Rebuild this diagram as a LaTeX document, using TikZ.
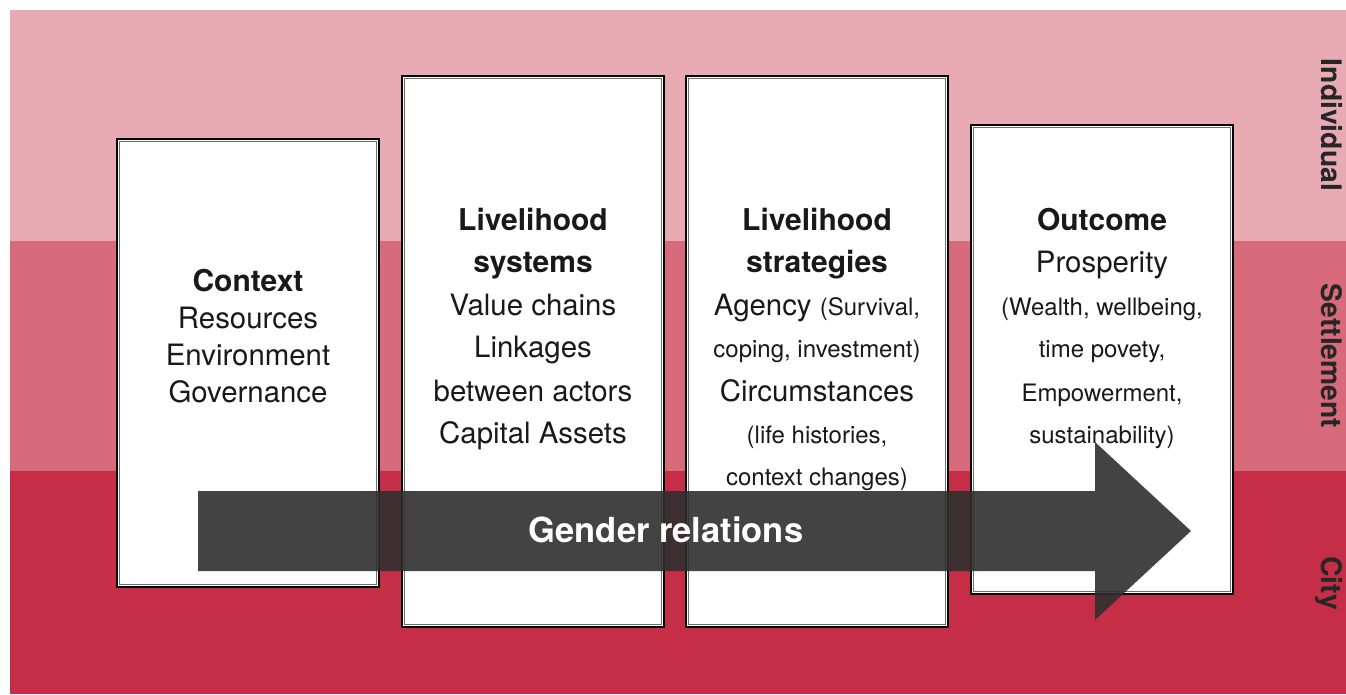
\documentclass[tikz,border=0pt]{standalone}
\usepackage{fontspec}
\setmainfont{TeX Gyre Heros}
\definecolor{bandA}{RGB}{232,171,179}
\definecolor{bandB}{RGB}{216,107,123}
\definecolor{bandC}{RGB}{197,46,70}
\definecolor{arrowgray}{RGB}{47,47,47}
\definecolor{innergray}{RGB}{110,110,110}
\tikzset{
  framebox/.style={draw=black, line width=1.3bp, fill=white, inner sep=0pt, minimum width=262bp},
  innerframe/.style={draw=innergray, line width=1.6bp},
  hd/.style={anchor=base, inner sep=0pt, font=\fontsize{30bp}{36bp}\selectfont\bfseries, text=black!90},
  tx/.style={anchor=base, inner sep=0pt, font=\fontsize{29.4bp}{35bp}\selectfont, text=black!90},
  sm/.style={anchor=base, inner sep=0pt, font=\fontsize{24bp}{30bp}\selectfont, text=black!90},
  side/.style={anchor=base, rotate=-90, inner sep=0pt, font=\fontsize{28.3bp}{34bp}\selectfont\bfseries, text=black!85},
}
\begin{document}
\begin{tikzpicture}[x=1bp, y=-1bp]
\useasboundingbox (0,0) rectangle (1346,694);
\fill[white] (0,0) rectangle (1346,694);
% bands
\fill[bandA] (10,10) rectangle (1346,241);
\fill[bandB] (10,241) rectangle (1346,471);
\fill[bandC] (10,471) rectangle (1346,694);
% side labels
\node[side] (lind) at (1321,125) {Individual};
\node[side] (lset) at (1321,356) {Settlement};
\node[side] (lcity) at (1321,583) {City};
% boxes
\node[framebox, minimum height=448bp] (ctx) at (248,363) {};
\node[framebox, minimum height=551bp] (sys) at (533,351.5) {};
\node[framebox, minimum height=551bp] (str) at (817,351.5) {};
\node[framebox, minimum height=469bp] (out) at (1102,359.5) {};
\foreach \b in {ctx,sys,str,out}{
  \draw[innerframe] ([shift={(3,3)}]\b.north west) rectangle ([shift={(-3,-3)}]\b.south east);
}
% context text
\node[hd] (c1) at (248,291) {Context};
\node[tx] (c2) at (248,328) {Resources};
\node[tx] (c3) at (248,365.5) {Environment};
\node[tx] (c4) at (248,402) {Governance};
% systems text
\node[hd] (s1) at (533,230) {Livelihood};
\node[hd] (s2) at (533,272) {systems};
\node[tx] (s3) at (533,315) {Value chains};
\node[tx] (s4) at (533,357) {Linkages};
\node[tx] (s5) at (533,401) {between actors};
\node[tx] (s6) at (533,443) {Capital Assets};
% strategies text
\node[hd] (t1) at (817,230) {Livelihood};
\node[hd] (t2) at (817,272) {strategies};
\node[tx] (t3) at (817,315) {Agency {\fontsize{24bp}{30bp}\selectfont(Survival,}};
\node[sm] (t4) at (817,357) {coping, investment)};
\node[tx] (t5) at (817,401) {Circumstances};
\node[sm] (t6) at (817,443) {(life histories,};
\node[sm] (t7) at (817,485) {context changes)};
% outcome text
\node[hd] (o1) at (1102,230) {Outcome};
\node[tx] (o2) at (1102,272) {Prosperity};
\node[sm] (o3) at (1102,315) {(Wealth, wellbeing,};
\node[sm] (o4) at (1102,357) {time povety,};
\node[sm] (o5) at (1102,401) {Empowerment,};
\node[sm] (o6) at (1102,443) {sustainability)};
% big arrow
\fill[arrowgray, fill opacity=0.9] (198,491) -- (1095,491) -- (1095,442) -- (1191,531) -- (1095,620) -- (1095,571) -- (198,571) -- cycle;
\node[anchor=base, inner sep=0pt, text=white, font=\fontsize{34.5bp}{40bp}\selectfont\bfseries] (gr) at (666,542) {Gender relations};
\end{tikzpicture}
\end{document}
